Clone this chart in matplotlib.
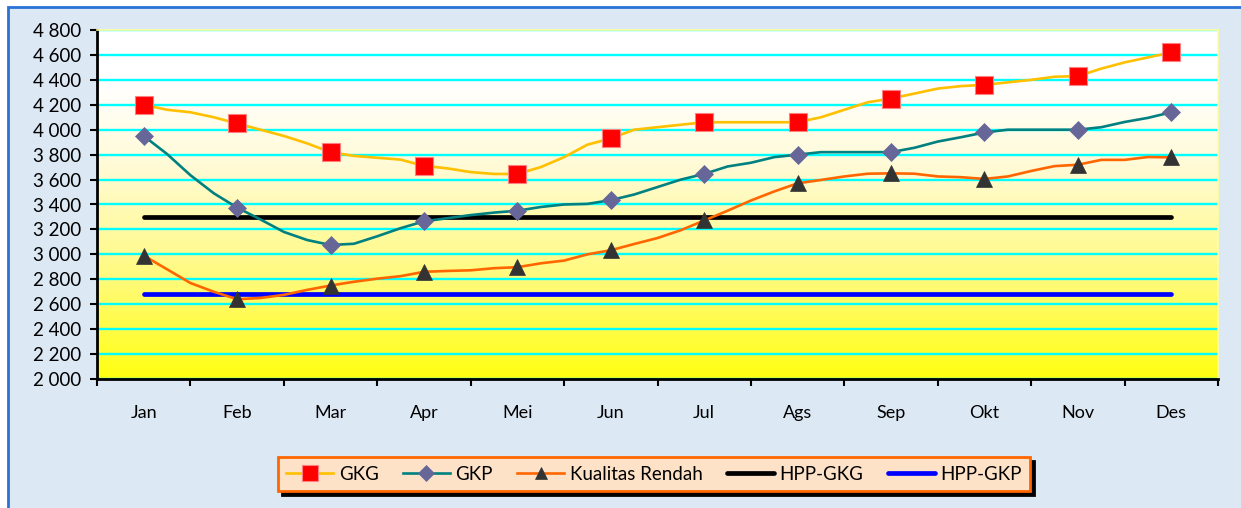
import matplotlib
matplotlib.use("Agg")
import matplotlib.pyplot as plt
import numpy as np
from matplotlib.colors import LinearSegmentedColormap
from matplotlib.patches import Rectangle
from matplotlib.ticker import FuncFormatter, FixedLocator

plt.rcParams['font.family'] = ['Lato', 'DejaVu Sans']

months = ["Jan", "Feb", "Mar", "Apr", "Mei", "Jun", "Jul", "Ags", "Sep", "Okt", "Nov", "Des"]
steps_per_month = 4

# weekly-ish readings (markers at each month start)
gkg = [4200, 4160, 4140, 4100, 4050, 4000, 3950, 3890, 3820, 3790, 3775, 3760,
       3710, 3690, 3660, 3645, 3645, 3700, 3780, 3880, 3930, 4000, 4020, 4040,
       4060, 4060, 4060, 4060, 4060, 4100, 4160, 4220, 4250, 4290, 4330, 4350,
       4360, 4380, 4400, 4425, 4430, 4490, 4540, 4580, 4620]
gkp = [3950, 3805, 3635, 3490, 3375, 3280, 3180, 3115, 3075, 3085, 3145, 3210,
       3265, 3290, 3315, 3335, 3350, 3380, 3400, 3405, 3435, 3480, 3540, 3600,
       3645, 3705, 3735, 3780, 3800, 3820, 3820, 3820, 3820, 3855, 3905, 3940,
       3978, 4000, 4000, 4000, 4000, 4020, 4062, 4095, 4140]
kualitas_rendah = [2990, 2880, 2770, 2700, 2640, 2650, 2675, 2715, 2750, 2780, 2805, 2825,
                   2860, 2867, 2872, 2889, 2897, 2928, 2950, 3000, 3033, 3083, 3131, 3194,
                   3272, 3350, 3432, 3505, 3570, 3597, 3625, 3647, 3650, 3647, 3625, 3619,
                   3605, 3625, 3669, 3708, 3719, 3758, 3758, 3781, 3778]
hpp_gkg = [3300] * 12
hpp_gkp = [2685] * 12

y_ticks = list(range(2000, 4801, 200))

W, H = 1241, 508
fig = plt.figure(figsize=(W / 100, H / 100), dpi=100, facecolor='white')
fig.patches.append(Rectangle((8 / W, -0.05), 1.2, 1 - 7 / H + 0.05, transform=fig.transFigure,
                             facecolor='#dde8f5', edgecolor='#2a72d6', lw=2, zorder=-10))

ax = fig.add_axes([97 / W, 1 - 379 / H, (1218 - 97) / W, (379 - 30) / H])

cmap = LinearSegmentedColormap.from_list('bg', [(0, '#ffff10'), (0.3, '#fffa80'),
                                               (0.62, '#fffbd8'), (0.85, '#ffffff'), (1, '#ffffff')])
grad = np.linspace(1, 0, 256).reshape(-1, 1)
ax.imshow(grad, extent=[0, 1, 0, 1], transform=ax.transAxes, aspect='auto', cmap=cmap,
          zorder=-1, interpolation='bicubic')
ax.set_facecolor('white')
ax.set_axisbelow(True)

xw = np.arange(len(gkg)) / steps_per_month
xm = np.arange(len(months))

ax.plot(xm, hpp_gkg, color='black', lw=3.4, solid_capstyle='round', zorder=3, label='HPP-GKG')
ax.plot(xm, hpp_gkp, color='#0000ff', lw=3.4, solid_capstyle='round', zorder=3, label='HPP-GKP')
ax.plot(xw, gkg, color='#ffc000', lw=1.9, marker='s', ms=13, mfc='#ff0000', mec='#ff8080',
        mew=0.8, markevery=steps_per_month, zorder=4, label='GKG')
ax.plot(xw, gkp, color='#008080', lw=1.9, marker='D', ms=9.5, mfc='#666699', mec='#666699',
        mew=0.5, markevery=steps_per_month, zorder=4, label='GKP')
ax.plot(xw, kualitas_rendah, color='#ff6600', lw=1.9, marker='^', ms=11, mfc='#333333',
        mec='#333333', mew=0.5, markevery=steps_per_month, zorder=4, label='Kualitas Rendah')

ax.set_xlim(-0.5, 11.5)
ax.set_ylim(2000, 4800)
ax.set_yticks(y_ticks)
ax.yaxis.set_major_formatter(FuncFormatter(lambda v, p: f"{int(v):,}".replace(",", " ")))
ax.yaxis.grid(True, color='#00ffff', lw=1.7)
ax.tick_params(axis='y', length=5, width=1.5, pad=6, labelsize=13.5, direction='out')

ax.xaxis.set_major_locator(FixedLocator(np.arange(-0.5, 12, 1)))
ax.xaxis.set_minor_locator(FixedLocator(xm))
ax.set_xticklabels([], minor=False)
ax.set_xticklabels(months, minor=True)
ax.tick_params(axis='x', which='major', length=5, width=1.5, direction='out')
ax.tick_params(axis='x', which='minor', length=0, pad=19, labelsize=13)

for s in ['left', 'bottom']:
    ax.spines[s].set_linewidth(2)
    ax.spines[s].set_color('black')
for s in ['top', 'right']:
    ax.spines[s].set_linewidth(1.2)
    ax.spines[s].set_color('#ffff99')

handles, labels = ax.get_legend_handles_labels()
order = [2, 3, 4, 0, 1]
leg = fig.legend([handles[i] for i in order], [labels[i] for i in order], ncol=5,
                 loc='center', bbox_to_anchor=(654 / W, 1 - 474 / H), fontsize=13.5,
                 frameon=True, fancybox=False, handlelength=2.5, columnspacing=1.3,
                 handletextpad=0.3, borderpad=0.45, markerscale=0.85,
                 shadow={'color': 'black', 'alpha': 1, 'ox': 3, 'oy': -3})
leg.get_frame().set_facecolor('#fde2c8')
leg.get_frame().set_edgecolor('#ff6600')
leg.get_frame().set_linewidth(2)
leg.get_frame().set_alpha(1)

fig.savefig('out.png', dpi=100, facecolor=fig.get_facecolor())
